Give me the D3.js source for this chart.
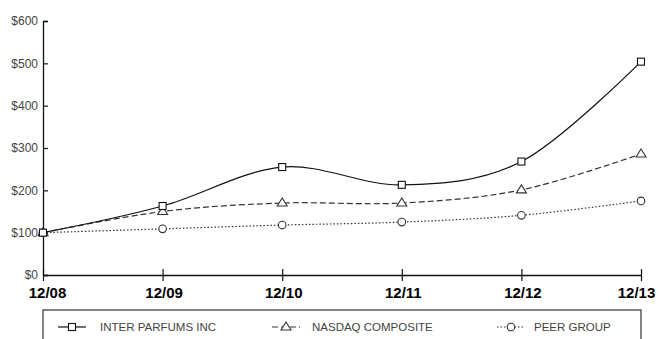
<!DOCTYPE html>
<html>
<head>
<meta charset="utf-8">
<script src="https://cdn.jsdelivr.net/npm/d3@7"></script>
<style>
  body { margin: 0; background: #fff; }
  svg { display: block; font-family: "Liberation Sans", Arial, sans-serif; }
</style>
</head>
<body>
<div id="chart"></div>
<script>
// data
const periods = ["12/08", "12/09", "12/10", "12/11", "12/12", "12/13"];
const interParfums = [100, 163, 255, 213, 268, 504];
const nasdaq = [100, 150, 170, 170, 201, 286];
const peerGroup = [100, 109, 118, 125, 141, 175];
const yTicks = [0, 100, 200, 300, 400, 500, 600];
const seriesNames = ["INTER PARFUMS INC", "NASDAQ COMPOSITE", "PEER GROUP"];

const width = 659, height = 339;
const margin = { top: 21, right: 18, bottom: 64, left: 43 };

const svg = d3.select("#chart").append("svg")
  .attr("width", width)
  .attr("height", height);

const x = d3.scalePoint()
  .domain(periods)
  .range([margin.left, width - margin.right]);

const y = d3.scaleLinear()
  .domain([0, 600])
  .range([height - margin.bottom, margin.top]);

// y axis
const yAxis = svg.append("g")
  .attr("transform", "translate(" + margin.left + ",0)")
  .call(d3.axisRight(y).tickValues(yTicks).tickSize(5).tickFormat(d => "$" + d));
yAxis.select(".domain").attr("stroke", "#111").attr("stroke-width", 1.3);
yAxis.selectAll(".tick line").attr("stroke", "#111").attr("stroke-width", 1.2);
yAxis.selectAll(".tick text")
  .attr("x", -5)
  .attr("text-anchor", "end")
  .attr("fill", "#444")
  .style("font-size", "12px");

// x axis
const xAxis = svg.append("g")
  .attr("transform", "translate(0," + y(0) + ")")
  .call(d3.axisBottom(x).tickSize(5).tickSizeOuter(0));
xAxis.select(".domain").attr("stroke", "#111").attr("stroke-width", 1.3);
xAxis.selectAll(".tick line").attr("y1", -6).attr("y2", 6)
  .attr("stroke", "#111").attr("stroke-width", 1.2);
xAxis.selectAll(".tick text")
  .attr("y", 0)
  .attr("dy", 0)
  .attr("transform", (d, i) => {
    const shift = i === 0 ? 4 : (i === periods.length - 1 ? -5 : 1);
    return "translate(" + shift + ",23)";
  })
  .attr("fill", "#000")
  .style("font-size", "15px")
  .style("font-weight", "bold");

const line = d3.line()
  .x((d, i) => x(periods[i]))
  .y(d => y(d))
  .curve(d3.curveCardinal.tension(0));

const series = [
  { name: seriesNames[0], values: interParfums, dash: null, color: "#111", marker: "square" },
  { name: seriesNames[1], values: nasdaq, dash: "6,3", color: "#333", marker: "triangle" },
  { name: seriesNames[2], values: peerGroup, dash: "1.5,2", color: "#333", marker: "circle" }
];

const drawMarker = (g, type, cx, cy, color) => {
  if (type === "square") {
    g.append("rect")
      .attr("x", cx - 3.5).attr("y", cy - 3.5)
      .attr("width", 7).attr("height", 7)
      .attr("fill", "#fff").attr("stroke", color).attr("stroke-width", 1.1);
  } else if (type === "triangle") {
    g.append("path")
      .attr("d", `M${cx},${cy - 5}L${cx + 5},${cy + 3}L${cx - 5},${cy + 3}Z`)
      .attr("fill", "#fff").attr("stroke", color).attr("stroke-width", 1.1);
  } else {
    g.append("circle")
      .attr("cx", cx).attr("cy", cy).attr("r", 3.8)
      .attr("fill", "#fff").attr("stroke", color).attr("stroke-width", 1.1);
  }
};

// lines, drawn back to front
series.slice().reverse().forEach(s => {
  svg.append("path")
    .datum(s.values)
    .attr("fill", "none")
    .attr("stroke", s.color)
    .attr("stroke-width", 1.2)
    .attr("stroke-dasharray", s.dash)
    .attr("d", line);
});

series.slice().reverse().forEach(s => {
  const g = svg.append("g");
  s.values.forEach((v, i) => drawMarker(g, s.marker, x(periods[i]), y(v), s.color));
});

// legend box
const legendTop = 310;
svg.append("rect")
  .attr("x", margin.left)
  .attr("y", legendTop)
  .attr("width", x(periods[periods.length - 1]) - margin.left)
  .attr("height", 50)
  .attr("fill", "none")
  .attr("stroke", "#333")
  .attr("stroke-width", 1.2);

const legendPos = [
  { sx: 58, tx: 100 },
  { sx: 272, tx: 312 },
  { sx: 497, tx: 534 }
];
const ly = 327;
series.forEach((s, i) => {
  const p = legendPos[i];
  const g = svg.append("g");
  g.append("line")
    .attr("x1", p.sx).attr("x2", p.sx + 28)
    .attr("y1", ly).attr("y2", ly)
    .attr("stroke", s.color)
    .attr("stroke-width", 1.2)
    .attr("stroke-dasharray", s.dash);
  drawMarker(g, s.marker, p.sx + 14, ly, s.color);
  g.append("text")
    .attr("x", p.tx)
    .attr("y", ly + 4)
    .attr("fill", "#444")
    .style("font-size", "11.5px")
    .text(s.name);
});
</script>
</body>
</html>
